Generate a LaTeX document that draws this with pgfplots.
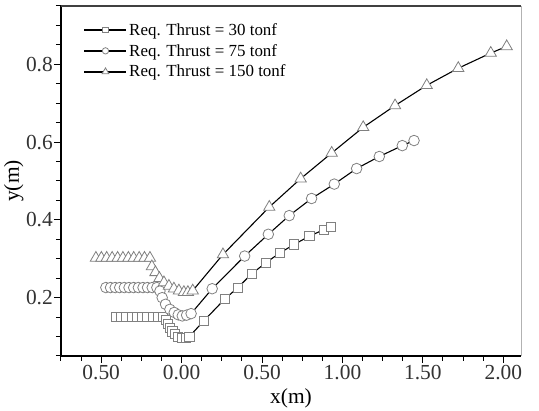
\documentclass[border=0pt]{standalone}
\usepackage{pgfplots}
\pgfplotsset{compat=1.18}
\usepackage{fontspec}
\setmainfont{Liberation Serif}
\definecolor{mk}{rgb}{0.50,0.50,0.50}
\pgfplotstableread{
x y
-0.409 0.150
-0.376 0.150
-0.344 0.150
-0.311 0.150
-0.279 0.150
-0.246 0.150
-0.214 0.150
-0.181 0.150
-0.149 0.150
-0.116 0.150
-0.097 0.143
-0.085 0.132
-0.073 0.122
-0.058 0.113
-0.041 0.106
-0.021 0.100
0.002 0.097
0.025 0.097
0.048 0.100
0.137 0.140
0.267 0.196
0.350 0.226
0.435 0.261
0.524 0.290
0.611 0.315
0.700 0.337
0.794 0.358
0.885 0.375
0.927 0.381
}\tthirty
\pgfplotstableread{
x y
-0.471 0.226
-0.442 0.226
-0.413 0.226
-0.385 0.226
-0.356 0.226
-0.327 0.226
-0.298 0.226
-0.269 0.226
-0.240 0.226
-0.212 0.226
-0.183 0.226
-0.154 0.226
-0.135 0.217
-0.121 0.200
-0.100 0.183
-0.073 0.170
-0.046 0.162
-0.021 0.156
0.004 0.153
0.031 0.155
0.059 0.159
0.190 0.223
0.392 0.307
0.539 0.363
0.669 0.411
0.808 0.455
0.949 0.492
1.088 0.532
1.229 0.563
1.372 0.591
1.445 0.604
}\tseventyfive
\pgfplotstableread{
x y
-0.533 0.302
-0.499 0.302
-0.466 0.302
-0.432 0.302
-0.398 0.302
-0.365 0.302
-0.331 0.302
-0.298 0.302
-0.264 0.302
-0.231 0.302
-0.197 0.302
-0.185 0.280
-0.163 0.265
-0.138 0.250
-0.110 0.239
-0.079 0.230
-0.048 0.223
-0.017 0.218
0.014 0.214
0.039 0.214
0.069 0.218
0.257 0.311
0.545 0.433
0.740 0.506
0.933 0.572
1.129 0.638
1.327 0.694
1.524 0.746
1.720 0.790
1.922 0.829
2.021 0.846
}\tonefifty
\begin{document}
\begin{tikzpicture}
\begin{axis}[
  scale only axis,
  width=460bp, height=350bp,
  xmin=-0.75, xmax=2.11,
  ymin=0.05, ymax=0.95,
  axis x line*=bottom, axis y line*=left,
  axis line style={line width=1.2bp, black},
  tick align=outside,
  major tick length=7bp, minor tick length=5bp,
  tick style={line width=1bp, black},
  xtick={-0.5,0,0.5,1,1.5,2},
  xticklabels={0.50,0.00,0.50,1.00,1.50,2.00},
  minor xtick={-0.75,-0.625,-0.375,-0.25,-0.125,0.125,0.25,0.375,0.625,0.75,0.875,1.125,1.25,1.375,1.625,1.75,1.875},
  ytick={0.2,0.4,0.6,0.8},
  yticklabels={0.2,0.4,0.6,0.8},
  minor ytick={0.05,0.1,0.15,0.25,0.3,0.35,0.45,0.5,0.55,0.65,0.7,0.75,0.85,0.9,0.95},
  tick label style={font=\fontsize{21.5}{24}\selectfont, text=black!80},
  yticklabel style={inner sep=1bp},
  xticklabel style={inner sep=2bp},
  label style={font=\fontsize{21.5}{24}\selectfont},
  xlabel={x(m)}, ylabel={y(m)},
  xlabel style={yshift=-3bp},
  ylabel style={yshift=-2bp},
  clip=false,
  legend cell align=left,
  legend style={draw=none, fill=none, at={(0.049,0.957)}, anchor=north west,
    font=\fontsize{17}{20}\selectfont, inner sep=0pt, row sep=3.5bp},
  legend image code/.code={\draw[#1, line width=1.5bp, mark repeat=2, mark phase=2, every mark/.append style={scale=0.6}] plot coordinates {(0bp,0bp) (21bp,0bp) (42bp,0bp)};},
  every axis plot/.append style={line width=1.1bp, black},
]
\addplot[mark=square*, mark size=4.6bp, mark options={draw=mk, fill=white, line width=0.8bp, solid}] table[x=x,y=y] {\tthirty};
\addlegendentry{Req. Thrust = 30 tonf}
\addplot[mark=*, mark size=5.3bp, mark options={draw=mk, fill=white, line width=0.8bp, solid}] table[x=x,y=y] {\tseventyfive};
\addlegendentry{Req. Thrust = 75 tonf}
\addplot[mark=triangle*, mark size=6.5bp, mark options={draw=mk, fill=white, line width=0.8bp, solid}] table[x=x,y=y] {\tonefifty};
\addlegendentry{Req. Thrust = 150 tonf}
\draw[line width=1.2bp, black!75] (rel axis cs:0,1) -- (rel axis cs:1,1);
\draw[line width=1bp, black!30] (rel axis cs:1,0) -- (rel axis cs:1,1);
\end{axis}
\path ([xshift=-61bp,yshift=-55bp]current axis.south west) ([xshift=18bp,yshift=6bp]current axis.north east);
\end{tikzpicture}
\end{document}
